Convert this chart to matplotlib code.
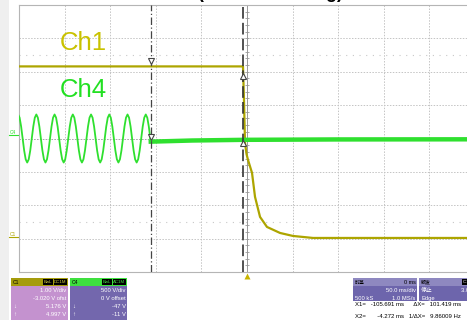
import numpy as np
import matplotlib.pyplot as plt
from matplotlib.patches import Rectangle

plt.rcParams['font.family'] = ['Liberation Sans', 'Noto Sans CJK SC', 'DejaVu Sans']

# scope settings
ch1_vdiv = 1.00
ch1_offset = -3.020
ch4_vdiv = 500.0
ch4_offset = 0.0
x1_cursor = -105.691   # ms
x2_cursor = -4.272     # ms

# Ch1 (V) - high level, then decay after the switch
ch1_t = [-250, -4.4, -3.3, -2.2, -0.5, 1.1, 5.5, 8.8, 14.3, 21.9, 36.2, 50.4, 72.4, 91, 250]
ch1_v = [5.18, 5.18, 4.17, 2.89, 2.55, 2.38, 1.99, 1.27, 0.67, 0.37, 0.19, 0.10, 0.04, 0.04, 0.04]

# Ch4 (V) - 50 Hz sine read every 1/12 period, then flat after X1
ch4_sine_v = [
    360, 312, 180, 0, -180, -312, -360, -312, -180, 0, 180, 312,
    360, 312, 180, 0, -180, -312, -360, -312, -180, 0, 180, 312,
    360, 312, 180, 0, -180, -312, -360, -312, -180, 0, 180, 312,
    360, 312, 180, 0, -180, -312, -360, -312, -180, 0, 180, 312,
    360, 312, 180, 0, -180, -312, -360, -312, -180, 0, 180, 312,
    360, 312, 180, 0, -180, -312, -360, -312, -180, 0, 180, 312,
    360, 312, 180, 0, -180, -312, -360, -312, -180, 0, 180, 312,
    360, 312, 180, 0,
]
ch4_sine_t0 = -251.0
ch4_sine_dt = 20.0 / 12
ch4_flat_t = [-105.5, -60, -4, 100, 250]
ch4_flat_v = [-47, -30, -20, -14, -12]

ch1_col = '#ada500'
ch4_col = '#2fe02f'

W, H = 467, 320
fig = plt.figure(figsize=(W / 100, H / 100), dpi=100)
fig.patch.set_facecolor('white')

# overlay in pixel coords for the scope frame decorations
bg = fig.add_axes([0, 0, 1, 1])
bg.set_xlim(0, W)
bg.set_ylim(H, 0)
bg.axis('off')
bg.add_patch(Rectangle((0, 0), 9, H, color='#efefef', lw=0))

# grid area: 10 x 8 divisions
ax = fig.add_axes([19 / W, 48 / H, 456 / W, 267 / H])
ax.set_xlim(-250, 250)
ax.set_ylim(-4, 4)
ax.set_facecolor('white')
ax.set_xticks([])
ax.set_yticks([])
for s in ax.spines.values():
    s.set_color('#b5b5b5')
    s.set_linewidth(0.8)

for gx in np.arange(-200, 250, 50):
    ax.axvline(gx, color='#c4c4c4', lw=0.7, ls=(0, (1.5, 1.5)), zorder=1)
for gy in np.arange(-3, 4, 1):
    ax.axhline(gy, color='#c4c4c4', lw=0.7, ls=(0, (1.5, 1.5)), zorder=1)
for gy in [2.5, -2.5]:
    ax.axhline(gy, color='#c8c8c8', lw=0.8, ls=(0, (1, 5)), zorder=1)
ax.axhline(0, color='#aaaaaa', lw=0.7, ls=(0, (1.5, 1.5)), zorder=1)

# centre axis with minor ticks
ax.axvline(0, color='#9a9a9a', lw=0.7, zorder=1)
ticks_y = np.arange(-4, 4.01, 0.2)
ax.plot(np.zeros_like(ticks_y), ticks_y, ls='none', marker='_', ms=3, mew=0.6, color='#9a9a9a', zorder=1)

# traces
ch1_div = (np.array(ch1_v) + ch1_offset) / ch1_vdiv
ax.plot(ch1_t, ch1_div, color=ch1_col, lw=1.6, zorder=3)

sine_t = ch4_sine_t0 + ch4_sine_dt * np.arange(len(ch4_sine_v))
ax.plot(sine_t, (np.array(ch4_sine_v) + ch4_offset) / ch4_vdiv, color=ch4_col, lw=1.3, zorder=3)
ax.plot(ch4_flat_t, (np.array(ch4_flat_v) + ch4_offset) / ch4_vdiv, color=ch4_col, lw=3.2, zorder=3)
ax.plot([sine_t[-1], ch4_flat_t[0]], [0, ch4_flat_v[0] / ch4_vdiv], color=ch4_col, lw=1.3, zorder=3)

# cursors
ax.axvline(x1_cursor, color='#444444', lw=0.9, ls=(0, (6, 2, 1, 2)), zorder=4)
ax.axvline(x2_cursor, color='#333333', lw=1.2, ls=(0, (7, 2.5)), zorder=4)

def ch1_at(t):
    return (np.interp(t, ch1_t, ch1_v) + ch1_offset) / ch1_vdiv

ax.plot([x1_cursor], [ch1_at(x1_cursor) + 0.17], marker='v', ms=5, mfc='white', mec='#444444', mew=0.8, zorder=5)
ax.plot([x2_cursor], [ch1_at(x1_cursor) - 0.3], marker='^', ms=5, mfc='white', mec='#444444', mew=0.8, zorder=5)
ax.plot([x1_cursor], [0.05], marker='v', ms=5, mfc='white', mec='#444444', mew=0.8, zorder=5)
ax.plot([x2_cursor], [-0.12], marker='^', ms=5, mfc='white', mec='#444444', mew=0.8, zorder=5)

ax.text(-205, 2.85, 'Ch1', color='#c9c200', fontsize=18.5, ha='left', va='center', zorder=6)
ax.text(-205, 1.45, 'Ch4', color='#22e022', fontsize=18.5, ha='left', va='center', zorder=6)

# header cut off at the top
bg.text(198, 2.5, '(Load Switching)            Ch1 1.5)', fontsize=13, fontweight='bold',
        color='black', ha='left', va='bottom')

# channel markers on the left and trigger marker
bg.text(10, 132, 'C4', fontsize=3.5, color=ch4_col, va='center')
bg.plot([9, 18], [135, 135], color=ch4_col, lw=0.8)
bg.text(10, 234, 'C1', fontsize=3.5, color=ch1_col, va='center')
bg.plot([9, 18], [237, 237], color=ch1_col, lw=0.8)
bg.plot([247], [275.5], marker='^', ms=4, color='#c8b400', mec='none')


# info panels
def panel(x, y, w, hh, hcol, bcol, title, tags, tagcol, lines, body_h):
    bg.add_patch(Rectangle((x, y), w, hh, color=hcol, lw=0))
    bg.add_patch(Rectangle((x, y + hh), w, body_h, color=bcol, lw=0))
    bg.text(x + 2, y + hh / 2 + 0.3, title, fontsize=3.6, color='black', va='center')
    tx = x + w - 1.5
    for tg in reversed(tags):
        tw = 4.2 * len(tg) * 0.62 + 2
        bg.add_patch(Rectangle((tx - tw, y + 1), tw, hh - 2, color='black', lw=0))
        bg.text(tx - tw / 2, y + hh / 2 + 0.3, tg, fontsize=3.2, color=tagcol, ha='center', va='center')
        tx -= tw + 1
    for i, (l, r) in enumerate(lines):
        yy = y + hh + 4.2 + i * 8
        if l:
            bg.text(x + 2, yy, l, fontsize=4.2, color='white', va='center')
        bg.text(x + w - 1.5, yy, r, fontsize=4.2, color='white', ha='right', va='center')

panel(11, 278, 57, 8, '#a59c0c', '#c492cf', 'C1', ['BwL', 'DC1M'], '#d8d040',
      [('', '1.00 V/div'), ('', '-3.020 V ofst'), ('↓', '5.176 V'), ('↑', '4.997 V'), ('', '')], 40)
panel(70, 278, 57, 8, '#3ee03e', '#7367ad', 'C4', ['BwL', 'AC1M'], '#44e044',
      [('', '500 V/div'), ('', '0 V offset'), ('↓', '-47 V'), ('↑', '-11 V'), ('', '-36 V')], 40)
panel(353, 278, 64, 8, '#8e88c0', '#6d65ac', '时基', [], 'white',
      [('', '50.0 ms/div'), ('500 kS', '1.0 MS/s')], 15)
bg.text(415.5, 282.3, '0 ms', fontsize=4.0, color='black', ha='right', va='center')
panel(419, 278, 60, 8, '#8e88c0', '#6d65ac', '触发', ['C1 DC'], 'white',
      [('停止', '3.00 V'), ('Edge', '正')], 15)

bg.text(355, 305, 'X1=   -105.691 ms      ΔX=   101.419 ms', fontsize=4.3, color='black', va='center')
bg.text(355, 316, 'X2=       -4.272 ms   1/ΔX=   9.86009 Hz', fontsize=4.3, color='black', va='center')

fig.savefig('out.png', dpi=100)
